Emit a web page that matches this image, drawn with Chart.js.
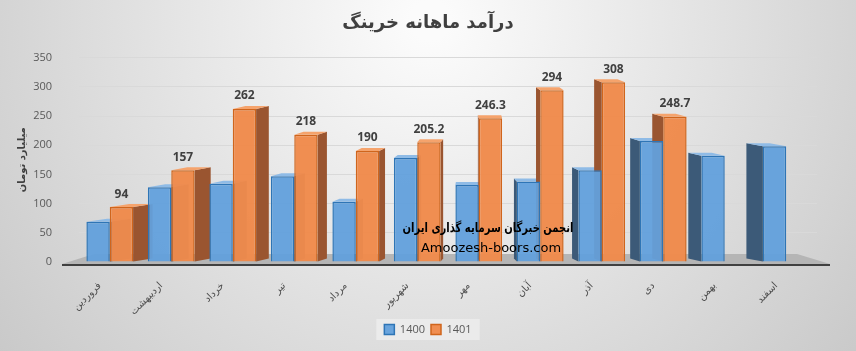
<!DOCTYPE html>
<html>
<head>
<meta charset="utf-8">
<script src="https://cdn.jsdelivr.net/npm/chart.js@4.4.1/dist/chart.umd.min.js"></script>
<style>
  html, body { margin: 0; padding: 0; background: #e0e0e0; }
  #wrap { width: 856px; height: 351px; }
</style>
</head>
<body>
<div id="wrap"><canvas id="incomeChart" width="856" height="351"></canvas></div>
<script>
// months of the Persian year
const months = ["فروردین", "اردیبهشت", "خرداد", "تیر", "مرداد", "شهریور", "مهر", "آبان", "آذر", "دی", "بهمن", "اسفند"];
const income1400 = [69, 128, 134, 147, 103, 178, 132, 138, 157, 207, 182, 198];
const income1401 = [94, 157, 262, 218, 190, 205.2, 246.3, 294, 308, 248.7, null, null];
const yMax = 350;
const yStep = 50;

// gray gradient background + legend box
const backgroundPlugin = {
  id: "background",
  beforeDraw(chart) {
    const c = chart.ctx;
    const g = c.createRadialGradient(430, 20, 20, 430, 20, 620);
    g.addColorStop(0, "#fbfbfb");
    g.addColorStop(1, "#c2c2c2");
    c.save();
    c.fillStyle = g;
    c.fillRect(0, 0, chart.width, chart.height);
    const boxes = chart.legend.legendHitBoxes;
    if (boxes && boxes.length) {
      const l = Math.min(...boxes.map(b => b.left));
      const r = Math.max(...boxes.map(b => b.left + b.width));
      const t = boxes[0].top;
      c.fillStyle = "rgba(236,236,236,0.9)";
      c.fillRect(l - 8, t - 5, r - l + 16, boxes[0].height + 10);
    }
    c.restore();
  },
};

// fake 3D: floor, side and top faces drawn from the bar elements
const depthPlugin = {
  id: "depth",
  beforeDatasetsDraw(chart) {
    const c = chart.ctx;
    const a = chart.chartArea;
    c.save();
    c.fillStyle = "#b5b5b5";
    c.beginPath();
    c.moveTo(a.left - 17, a.bottom + 2);
    c.lineTo(a.right + 13, a.bottom + 2);
    c.lineTo(a.right - 20, a.bottom - 8);
    c.lineTo(a.left + 15, a.bottom - 8);
    c.closePath();
    c.fill();
    c.strokeStyle = "#404040";
    c.lineWidth = 2;
    c.beginPath();
    c.moveTo(a.left - 17, a.bottom + 3);
    c.lineTo(a.right + 13, a.bottom + 3);
    c.stroke();

    const sideColors = ["#3c5a78", "#9a5530"];
    const topColors = ["#8fbbe6", "#f5a36c"];
    chart.data.datasets.forEach((ds, i) => {
      chart.getDatasetMeta(i).data.forEach((bar, j) => {
        if (ds.data[j] == null) return;
        const x0 = bar.x - bar.width / 2;
        const x1 = bar.x + bar.width / 2;
        const dx = (475 - bar.x) * 0.055;
        const dy = 3;
        const ex = dx > 0 ? x1 : x0;
        c.fillStyle = sideColors[i];
        c.beginPath();
        c.moveTo(ex, bar.y);
        c.lineTo(ex + dx, bar.y - dy);
        c.lineTo(ex + dx, bar.base - dy);
        c.lineTo(ex, bar.base);
        c.closePath();
        c.fill();
        c.fillStyle = topColors[i];
        c.beginPath();
        c.moveTo(x0, bar.y);
        c.lineTo(x1, bar.y);
        c.lineTo(x1 + dx, bar.y - dy);
        c.lineTo(x0 + dx, bar.y - dy);
        c.closePath();
        c.fill();
      });
    });
    c.restore();
  },
  afterDatasetsDraw(chart) {
    const c = chart.ctx;
    c.save();
    c.textAlign = "center";
    c.textBaseline = "middle";
    c.fillStyle = "#404040";
    c.font = "bold 12px 'Open Sans'";
    chart.getDatasetMeta(1).data.forEach((bar, j) => {
      const v = income1401[j];
      if (v == null) return;
      c.fillText(String(v), bar.x, bar.y - 13);
    });
    // watermark
    c.fillStyle = "#000";
    c.save();
    c.translate(488, 229);
    c.scale(0.77, 1);
    c.font = "bold 13px 'DejaVu Sans'";
    c.fillText("انجمن خبرگان سرمایه گذاری ایران", 0, 0);
    c.restore();
    c.font = "13px 'DejaVu Sans'";
    c.fillText("Amoozesh-boors.com", 491, 249);
    c.restore();
  },
};

const ctx = document.getElementById("incomeChart").getContext("2d");
const incomeChart = new Chart(ctx, {
  type: "bar",
  data: {
    labels: months,
    datasets: [
      {
        label: "1400",
        data: income1400,
        backgroundColor: "rgba(98,160,220,0.95)",
        borderColor: "#2e75b6",
        borderWidth: 1.5,
      },
      {
        label: "1401",
        data: income1401,
        backgroundColor: "rgba(240,138,75,0.97)",
        borderColor: "#d0651c",
        borderWidth: 1.5,
      },
    ],
  },
  options: {
    responsive: false,
    animation: false,
    layout: { padding: { left: 0, right: 0, bottom: 6 } },
    datasets: {
      bar: { categoryPercentage: 0.76, barPercentage: 1.0 },
    },
    scales: {
      x: {
        grid: { display: false },
        border: { display: false },
        ticks: {
          color: "#505050",
          font: { family: "DejaVu Sans", size: 10 },
          maxRotation: 45,
          minRotation: 45,
          padding: 10,
          labelOffset: -10,
          autoSkip: false,
        },
        afterFit(scale) { scale.height = 56; },
      },
      y: {
        min: 0,
        max: yMax,
        grid: { color: "#d9d9d9", drawTicks: false },
        border: { display: false },
        ticks: {
          stepSize: yStep,
          color: "#595959",
          font: { family: "Open Sans", size: 11 },
          padding: 27,
        },
        title: {
          display: true,
          text: "میلیارد تومان",
          color: "#404040",
          font: { family: "DejaVu Sans", size: 10, weight: "bold" },
          padding: { top: 16, bottom: 0 },
        },
        afterFit(scale) { scale.width = 79; },
      },
      // empty right margin so title and legend stay centred on the page
      yRight: {
        position: "right",
        display: true,
        grid: { display: false },
        border: { display: false },
        ticks: { display: false },
        afterFit(scale) { scale.width = 39; },
      },
    },
    plugins: {
      title: {
        display: true,
        text: "درآمد ماهانه خرینگ",
        color: "#404040",
        font: { family: "DejaVu Sans", size: 18, weight: "bold" },
        padding: { top: 13, bottom: 23 },
      },
      legend: {
        position: "bottom",
        labels: {
          color: "#595959",
          font: { family: "Open Sans", size: 11 },
          boxWidth: 10,
          boxHeight: 10,
          padding: 6,
        },
      },
      tooltip: { enabled: false },
    },
  },
  plugins: [backgroundPlugin, depthPlugin],
});
</script>
</body>
</html>
